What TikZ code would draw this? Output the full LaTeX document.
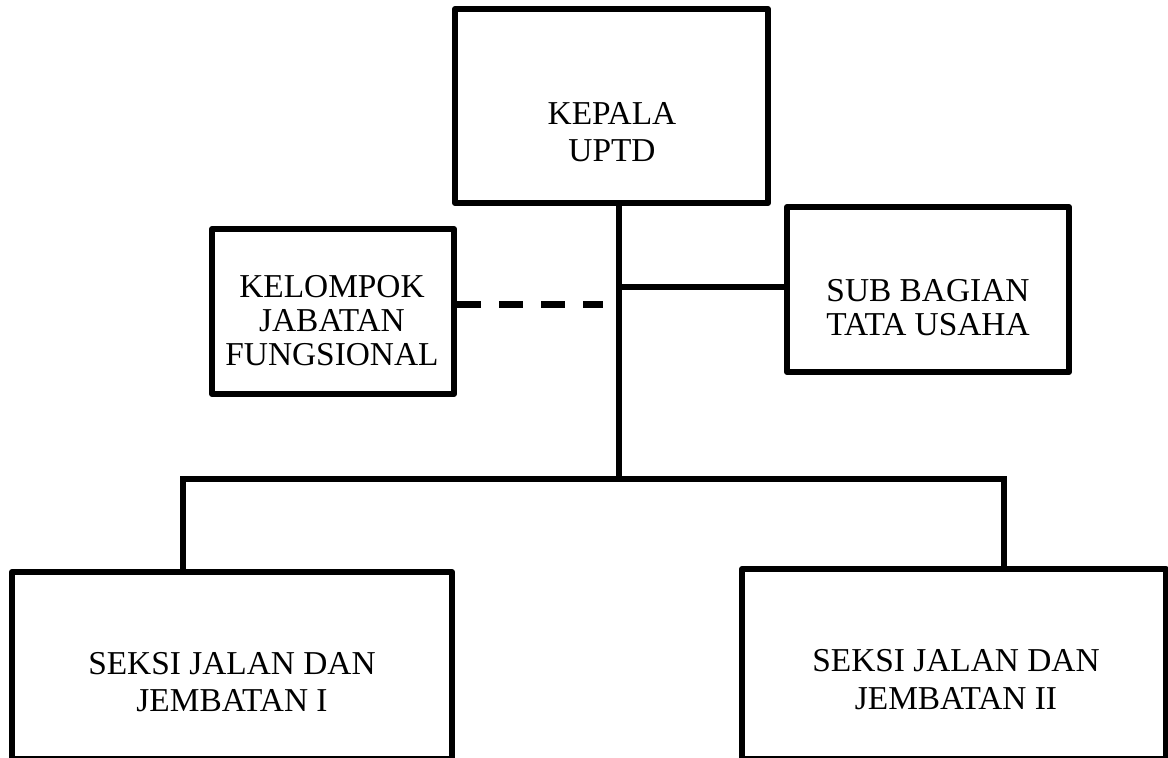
\documentclass[tikz,border=0pt]{standalone}
\usepackage{fontspec}
\setmainfont{Liberation Serif}
\begin{document}
\begin{tikzpicture}[x=1bp,y=-1bp,
  box/.style={draw, line width=6bp, line join=round, inner sep=0pt},
  lbl/.style={inner sep=0pt, align=center},
  conn/.style={line width=6bp},
  dashconn/.style={line width=7bp, dash pattern=on 24bp off 18bp}]
\useasboundingbox (0,0) rectangle (1168,758);
\fill[white] (0,0) rectangle (1168,758);
\clip (0,0) rectangle (1168,758);
% boxes
\node[box, minimum width=313bp, minimum height=194bp] (kep) at (611.5,106) {};
\node[box, minimum width=242bp, minimum height=165bp] (kel) at (333,311.5) {};
\node[box, minimum width=282bp, minimum height=165bp] (sub) at (928,289.5) {};
\node[box, minimum width=440bp, minimum height=187bp] (s1) at (232,665.5) {};
\node[box, minimum width=424bp, minimum height=190bp] (s2) at (954,664) {};
% texts
\node[lbl, font=\fontsize{33.5}{37}\selectfont] (tkep) at (612,132.5) {KEPALA\\UPTD};
\node[lbl, font=\fontsize{33.5}{34}\selectfont] (tkel) at (332,320.5) {KELOMPOK\\JABATAN\\FUNGSIONAL};
\node[lbl, font=\fontsize{33.5}{34}\selectfont] (tsub) at (928,307.5) {SUB BAGIAN\\TATA USAHA};
\node[lbl, font=\fontsize{33.5}{37}\selectfont] (ts1) at (232,682.5) {SEKSI JALAN DAN\\JEMBATAN I};
\node[lbl, font=\fontsize{33.5}{38}\selectfont] (ts2) at (956,680) {SEKSI JALAN DAN\\JEMBATAN II};
% connector points
\coordinate (tr) at (619,479);
\coordinate (br) at (619,287);
\coordinate (bl) at (183,479);
\coordinate (brr) at (1004,479);
\coordinate (dj) at (603,304);
% connectors
\draw[conn] (kep.south -| tr) -- (tr);
\draw[conn] (br) -- (sub.west |- br);
\draw[conn] (s1.north -| bl) -- (bl) -- (brr) -- (s2.north -| brr);
\draw[dashconn] (kel.east |- dj) -- (dj);
\end{tikzpicture}
\end{document}
